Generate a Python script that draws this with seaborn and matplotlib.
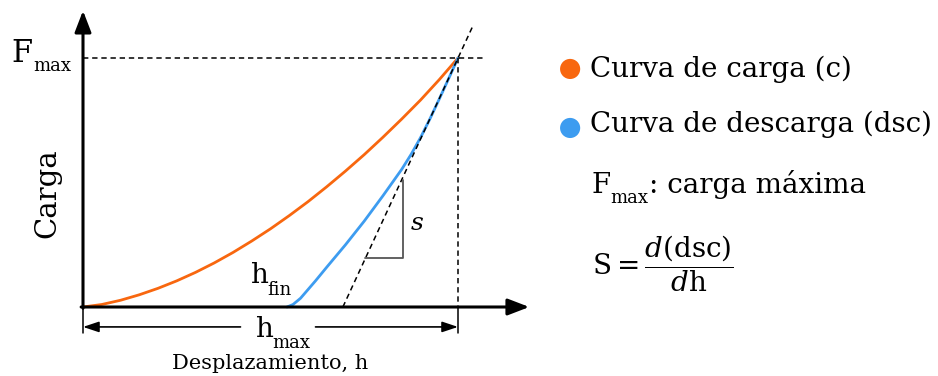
import numpy as np
import pandas as pd
import seaborn as sns
import matplotlib.pyplot as plt

carga_h = [0.0, 0.05, 0.1, 0.15, 0.2, 0.25, 0.3, 0.35, 0.4, 0.45, 0.5,
           0.55, 0.6, 0.65, 0.7, 0.75, 0.8, 0.85, 0.9, 0.95, 1.0]
carga_f = [0.0, 0.010, 0.027, 0.049, 0.075, 0.105, 0.139, 0.177, 0.219, 0.265, 0.314,
           0.367, 0.423, 0.483, 0.546, 0.612, 0.682, 0.755, 0.831, 0.913, 1.0]

# Curva de descarga (dsc)
descarga_h = [0.544, 0.56, 0.58, 0.60, 0.62, 0.65, 0.70, 0.75, 0.80, 0.85,
              0.875, 0.90, 0.925, 0.95, 0.975, 1.0]
descarga_f = [0.0, 0.01, 0.035, 0.07, 0.105, 0.16, 0.25, 0.345, 0.447, 0.553,
              0.613, 0.68, 0.755, 0.835, 0.917, 1.0]

# Tangente a la descarga en F_max y triángulo de pendiente
tangente_h = [0.693, 1.04]
tangente_f = [0.0, 1.13]
triangulo_h = [0.752, 0.853, 0.853]
triangulo_f = [0.195, 0.195, 0.51]

naranja = "#f8670f"
azul = "#3d9cf0"

df_c = pd.DataFrame({"h": carga_h, "F": carga_f})
df_d = pd.DataFrame({"h": descarga_h, "F": descarga_f})

sns.set_style("white")
plt.rcParams["font.family"] = ["DejaVu Serif"]
plt.rcParams["mathtext.fontset"] = "dejavuserif"
plt.rcParams["text.color"] = "black"

fig = plt.figure(figsize=(9.38, 3.76), dpi=100)
ax = fig.add_axes([0, 0, 1, 1])
ax.set_xlim(-83 / 375, (938 - 83) / 375)
ax.set_ylim((307 - 376) / 249, 307 / 249)
ax.axis("off")

# curvas
sns.lineplot(data=df_c, x="h", y="F", color=naranja, lw=2.0, ax=ax, sort=False)
sns.lineplot(data=df_d, x="h", y="F", color=azul, lw=2.0, ax=ax, sort=False)

# líneas de referencia discontinuas
guion = (0, (3.5, 2.5))
ax.plot(tangente_h, tangente_f, ls=guion, color="black", lw=1.1)
ax.plot([0, 1.07], [1, 1], ls=guion, color="black", lw=1.1)
ax.plot([1, 1], [1, 0], ls=guion, color="black", lw=1.1)
ax.plot(triangulo_h, triangulo_f, color="#555555", lw=1.3)

# ejes con flecha
flecha = dict(arrowstyle="-|>,head_length=0.65,head_width=0.25", lw=2.2,
              color="black", mutation_scale=20, shrinkA=0, shrinkB=0)
ax.annotate("", xy=(0, 1.19), xytext=(0, -0.005), arrowprops=flecha)
ax.annotate("", xy=(1.19, 0), xytext=(-0.005, 0), arrowprops=flecha)
ax.plot([0, 0], [0, -0.105], color="black", lw=1.1)
ax.plot([1, 1], [0, -0.105], color="black", lw=1.1)

# cota h_max
cota = dict(arrowstyle="-|>,head_length=0.6,head_width=0.2", lw=1.2,
            color="black", mutation_scale=16, shrinkA=0, shrinkB=0)
ax.annotate("", xy=(0, -0.08), xytext=(0.42, -0.08), arrowprops=cota)
ax.annotate("", xy=(1, -0.08), xytext=(0.62, -0.08), arrowprops=cota)

# textos del gráfico (subíndices bajos como en el original)
ax.text(-0.192, 0.984, "F", fontsize=22, va="baseline")
ax.text(-0.133, 0.948, "max", fontsize=13, va="baseline")
ax.text(-0.096, 0.458, "Carga", fontsize=21, rotation=90, ha="center", va="center")
ax.text(0.445, 0.096, "h", fontsize=20, va="baseline")
ax.text(0.491, 0.048, "fin", fontsize=13, va="baseline")
ax.text(0.458, -0.12, "h", fontsize=20, va="baseline")
ax.text(0.504, -0.165, "max", fontsize=13, va="baseline")
ax.text(0.499, -0.25, "Desplazamiento, h", fontsize=15, ha="center", va="baseline")
ax.text(0.875, 0.309, "s", fontsize=18, style="italic", va="baseline")

# leyenda
ax.scatter([1.299], [0.956], s=210, color=naranja, edgecolor="none")
ax.scatter([1.299], [0.719], s=210, color=azul, edgecolor="none")
ax.text(1.352, 0.924, "Curva de carga (c)", fontsize=20, va="baseline")
ax.text(1.352, 0.703, "Curva de descarga (dsc)", fontsize=20, va="baseline")
ax.text(1.357, 0.458, "F", fontsize=20, va="baseline")
ax.text(1.405, 0.418, "max", fontsize=13, va="baseline")
ax.text(1.508, 0.458, ": carga máxima", fontsize=20, va="baseline")
ax.text(1.357, 0.128, r"$\mathrm{S} = \dfrac{d(\mathrm{dsc})}{d\mathrm{h}}$", fontsize=20, va="baseline")

plt.savefig("out.png", dpi=100)
plt.close()
